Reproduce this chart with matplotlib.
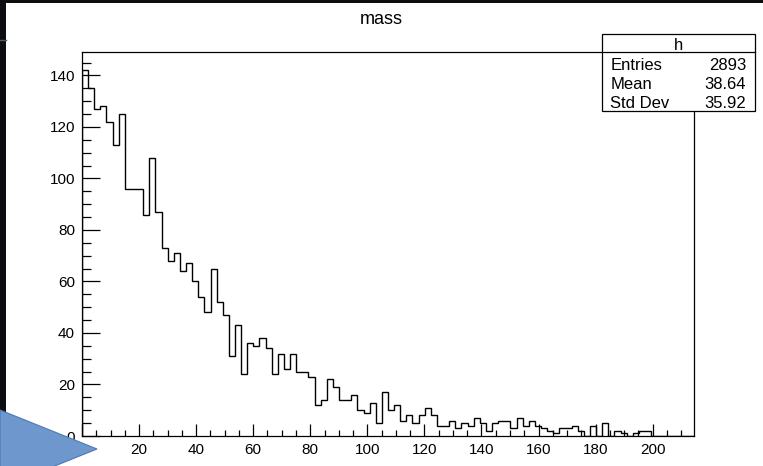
import numpy as np
import matplotlib
matplotlib.use("Agg")
import matplotlib.pyplot as plt
from matplotlib.patches import Rectangle, Polygon
from matplotlib.lines import Line2D

plt.rcParams['font.family'] = ['Liberation Sans', 'DejaVu Sans']

# histogram "h" : 100 bins over the mass axis
x_max = 214.5
n_bins = 100
counts = [142, 135, 127, 128, 122, 113, 125, 96, 96, 96,
          86, 108, 87, 73, 68, 71, 64, 67, 60, 54,
          48, 65, 52, 47, 31, 43, 24, 36, 35, 38,
          34, 24, 32, 26, 32, 25, 25, 23, 12, 14,
          22, 19, 14, 14, 16, 10, 9, 13, 5, 17,
          10, 12, 6, 8, 5, 8, 11, 8, 4, 4,
          6, 3, 5, 4, 7, 5, 2, 5, 6, 6,
          3, 7, 4, 6, 4, 3, 2, 1, 3, 3,
          4, 2, 0, 4, 0, 5, 0, 2, 1, 0,
          1, 2, 2, 0, 0, 0, 0, 0, 0, 0]
stat_names = ['Entries', 'Mean', 'Std Dev']
stat_values = ['2893', '38.64', '35.92']
x_ticks = [0, 20, 40, 60, 80, 100, 120, 140, 160, 180, 200]
y_ticks = [0, 20, 40, 60, 80, 100, 120, 140]

W, H = 763, 466
fig = plt.figure(figsize=(W / 100, H / 100), dpi=100)

def fx(px):
    return px / W

def fy(py):
    return 1 - py / H

ax = fig.add_axes([fx(82), fy(436), fx(694) - fx(82), fy(52) - fy(436)])
edges = np.linspace(0, x_max, n_bins + 1)
ax.stairs(counts, edges, color='black', linewidth=1.0, baseline=0)

ax.set_xlim(0, x_max)
ax.set_ylim(0, max(counts) * 1.05)
ax.set_xticks(x_ticks)
ax.set_xticks(np.arange(0, x_max, 5), minor=True)
ax.set_yticks(y_ticks)
ax.set_yticks(np.arange(0, max(counts) * 1.05, 5), minor=True)
ax.tick_params(axis='both', which='both', direction='in', labelsize=11, width=0.9)
ax.tick_params(axis='y', which='major', length=13, pad=5)
ax.tick_params(axis='y', which='minor', length=6.5)
ax.tick_params(axis='x', which='major', length=8.5, pad=5)
ax.tick_params(axis='x', which='minor', length=4.3)
ax.tick_params(top=False, right=False, which='both')
for s in ax.spines.values():
    s.set_linewidth(0.9)

fig.text(fx(381), fy(24), 'mass', ha='center', va='baseline', fontsize=13)

# stats box
box = Rectangle((fx(602), fy(111)), fx(755) - fx(602), fy(34) - fy(111),
                transform=fig.transFigure, facecolor='white', edgecolor='black',
                linewidth=0.9, zorder=5)
fig.patches.append(box)
fig.lines.append(Line2D([fx(602), fx(755)], [fy(52), fy(52)], transform=fig.transFigure,
                        color='black', linewidth=0.9, zorder=6))
fig.text(fx(678.5), fy(50), 'h', ha='center', va='baseline', fontsize=12, zorder=7)
for i, (name, val) in enumerate(zip(stat_names, stat_values)):
    base = [69.5, 89, 108.5][i]
    fig.text(fx(610.5), fy(base), name, ha='left', va='baseline', fontsize=12, zorder=7)
    fig.text(fx(746), fy(base), val, ha='right', va='baseline', fontsize=12, zorder=7)

# dark window edges
fig.patches.append(Rectangle((0, fy(3)), 1, fy(0) - fy(3), transform=fig.transFigure,
                             facecolor='#0b0d10', edgecolor='none', zorder=8))
fig.patches.append(Rectangle((0, fy(430)), fx(6), fy(0) - fy(430), transform=fig.transFigure,
                             facecolor='#0b0d10', edgecolor='none', zorder=8))
fig.lines.append(Line2D([0, fx(6)], [fy(40), fy(40)], transform=fig.transFigure,
                        color='#555a60', linewidth=1, zorder=9))

# arrow shape in the corner
tri = Polygon([(0, fy(410)), (fx(97), fy(449)), (0, fy(488))], closed=True,
              transform=fig.transFigure, facecolor='#6e97cd', edgecolor='#4f78b3',
              linewidth=0.8, zorder=10)
fig.patches.append(tri)

fig.savefig('out.png', dpi=100)
